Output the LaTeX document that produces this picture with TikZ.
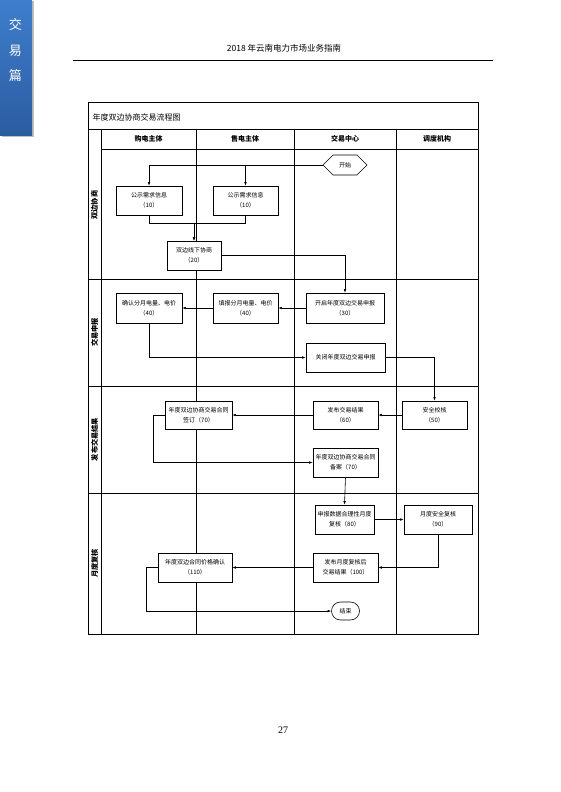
\documentclass[tikz,border=0pt]{standalone}
\usepackage{fontspec}
\setmainfont{Noto Sans CJK SC}
\newfontfamily\serifnum{Liberation Serif}
\usetikzlibrary{shapes.misc,shapes.symbols,arrows.meta}
\definecolor{tabtop}{RGB}{62,126,205}
\definecolor{tabbot}{RGB}{44,92,160}
\begin{document}
\begin{tikzpicture}[x=1pt,y=-1pt,
  >={Latex[length=3.5pt,width=2.6pt]},
  box/.style={draw, fill=white, line width=0.6pt, align=center, inner sep=0.5pt,
    font=\fontsize{6}{10}\selectfont, text=black},
  lane/.style={rotate=90, font=\fontsize{7.2}{8}\selectfont\bfseries},
  colhead/.style={font=\fontsize{7}{8}\selectfont\bfseries},
  conn/.style={line width=0.6pt},
  grid/.style={line width=0.8pt}]
\useasboundingbox (0,0) rectangle (560,792);
% blue tab
\fill[black!25] (1.5,1.5) rectangle (33.5,136.5);
\shade[top color=tabtop, bottom color=tabbot] (0,0) rectangle (32,135);
\node[text=white, font=\fontsize{13}{14}\selectfont] (t1) at (15.5,25) {交};
\node[text=white, font=\fontsize{13}{14}\selectfont] (t2) at (15.5,51) {易};
\node[text=white, font=\fontsize{13}{14}\selectfont] (t3) at (15.5,76) {篇};
% header
\node[font=\fontsize{8.5}{10}\selectfont] (hdr) at (284,48) {2018 年云南电力市场业务指南};
\coordinate (hl) at (73,60);
\coordinate (hr) at (493,60);
\draw[line width=0.6pt] (hl) -- (hr);
% frame
\draw[line width=1pt] (88,102) rectangle (478,634);
\draw[grid] (88,129) -- (478,129);
\draw[grid] (101,129) -- (101,634);
\draw[grid] (101,149) -- (478,149);
\foreach \x in {196,294,396} \draw[grid] (\x,129) -- (\x,634);
\foreach \y in {279,386,493} \draw[grid] (88,\y) -- (478,\y);
\node[anchor=west, font=\fontsize{8}{9}\selectfont] (title) at (89,117) {年度双边协商交易流程图};
\node[colhead] (h1) at (148.5,139) {购电主体};
\node[colhead] (h2) at (245,139) {售电主体};
\node[colhead] (h3) at (345,139) {交易中心};
\node[colhead] (h4) at (437,139) {调度机构};
\node[lane] (l1) at (94.5,205) {双边协商};
\node[lane] (l2) at (94.5,332.5) {交易申报};
\node[lane] (l3) at (94.5,439.5) {发布交易结果};
\node[lane] (l4) at (94.5,563.5) {月度复核};
% nodes
\node[box, signal, signal to=west and east, minimum width=44pt, minimum height=20pt] (start) at (345,165) {开始};
\node[box, minimum width=66pt, minimum height=29pt] (b10a) at (149,200.5) {公示需求信息\\（10）};
\node[box, minimum width=65pt, minimum height=29pt] (b10b) at (245.5,200.5) {公示需求信息\\（10）};
\node[box, minimum width=54pt, minimum height=29pt] (b20) at (194,255.5) {双边线下协商\\（20）};
\node[box, minimum width=78pt, minimum height=30pt] (b30) at (345,308) {开启年度双边交易申报\\（30）};
\node[box, minimum width=65pt, minimum height=30pt] (b40b) at (245.5,308) {填报分月电量、电价\\（40）};
\node[box, minimum width=66pt, minimum height=30pt] (b40a) at (149,308) {确认分月电量、电价\\（40）};
\node[box, minimum width=79pt, minimum height=29pt] (b31) at (345.5,357.5) {关闭年度双边交易申报};
\node[box, minimum width=67pt, minimum height=28pt] (b70a) at (198.5,415) {年度双边协商交易合同\\签订（70）};
\node[box, minimum width=65pt, minimum height=28pt] (b60) at (345.5,415) {发布交易结果\\（60）};
\node[box, minimum width=65pt, minimum height=28pt] (b50) at (434.5,415) {安全校核\\（50）};
\node[box, minimum width=65pt, minimum height=29pt] (b70b) at (345.5,462.5) {年度双边协商交易合同\\备案（70）};
\node[box, minimum width=59pt, minimum height=29pt] (b80) at (344.5,519.5) {申报数据合理性月度\\复核（80）};
\node[box, minimum width=68pt, minimum height=29pt] (b90) at (438,519.5) {月度安全复核\\（90）};
\node[box, minimum width=65pt, minimum height=29pt] (b100) at (345.5,567.5) {发布月度复核后\\交易结果（100）};
\node[box, minimum width=74pt, minimum height=29pt] (b110) at (195,567.5) {年度双边合同价格确认\\（110）};
\node[box, rounded rectangle, minimum width=29pt, minimum height=18pt] (end) at (345.5,611) {结束};
% connectors
\draw[conn,->] (start.west) -| (b10a.north);
\draw[conn,->] (start.west) -| (b10b.north);
\draw[conn,->] (b10a.south) -- ++(0,8) -| (b20.north);
\draw[conn,->] (b10b.south) -- ++(0,8) -| (b20.north);
\draw[conn,->] (b20.east) -| (b30.north);
\draw[conn,->] (b30.west) -- (b40b.east);
\draw[conn,->] (b40b.west) -- (b40a.east);
\draw[conn,->] (b40a.south) |- (b31.west);
\draw[conn,->] (b31.east) -| (b50.north);
\draw[conn,->] (b50.west) -- (b60.east);
\draw[conn,->] (b60.west) -- (b70a.east);
\draw[conn,->] (b70a.west) -- ++(-11,0) |- (b70b.west);
\draw[conn,->] (b70b.south) -- (b80.north);
\draw[conn,->] (b80.east) -- (b90.west);
\draw[conn,->] (b90.south) |- (b100.east);
\draw[conn,->] (b100.west) -- (b110.east);
\draw[conn,->] (b110.west) -- ++(-11,0) |- (end.west);
% page number
\node[font=\serifnum\fontsize{10}{12}\selectfont] (pg) at (283,730) {27};
\end{tikzpicture}
\end{document}
